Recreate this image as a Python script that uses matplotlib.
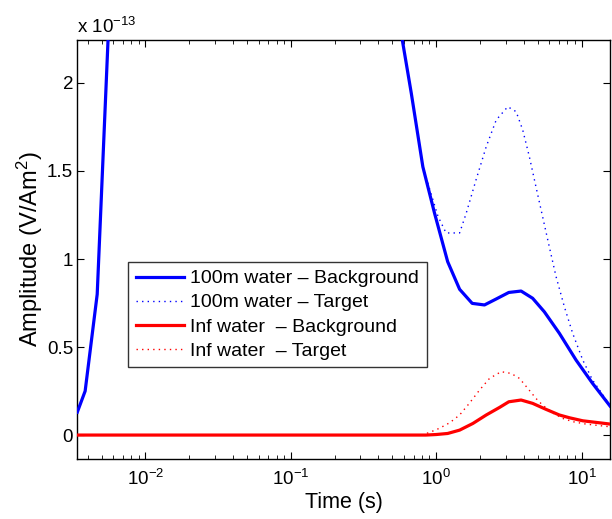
import numpy as np
import matplotlib
matplotlib.use("Agg")
import matplotlib.pyplot as plt
from matplotlib.ticker import LogLocator, NullFormatter

plt.rcParams['font.family'] = ['Liberation Sans', 'DejaVu Sans']
plt.rcParams['mathtext.fontset'] = 'custom'
plt.rcParams['mathtext.rm'] = 'Liberation Sans'
plt.rcParams['mathtext.it'] = 'Liberation Sans:italic'
plt.rcParams['mathtext.bf'] = 'Liberation Sans:bold'

# values in units of 1e-13 V/Am^2
t_blue_bg = [0.0034, 0.00385, 0.00466, 0.00553, 0.0065, 0.5, 0.585, 0.675, 0.81, 0.975, 1.20, 1.45, 1.77,
             2.15, 2.59, 3.16, 3.84, 4.61, 5.55, 7.04, 9.17, 11.9, 15.7]
a_blue_bg = [0.13, 0.25, 0.80, 2.24, 3.0, 3.0, 2.244, 1.94, 1.524, 1.26, 0.985, 0.828, 0.748,
             0.739, 0.773, 0.81, 0.818, 0.777, 0.70, 0.578, 0.426, 0.294, 0.165]

t_blue_tg = [0.81, 0.90, 1.03, 1.17, 1.45, 1.61, 1.88, 2.21, 2.59, 3.11, 3.55, 3.94, 4.38, 4.86, 5.40,
             6.0, 6.68, 7.62, 8.69, 10.2, 11.9, 15.7]
a_blue_tg = [1.524, 1.40, 1.242, 1.148, 1.148, 1.26, 1.449, 1.638, 1.79, 1.865, 1.837, 1.733, 1.58, 1.41, 1.24,
             1.07, 0.90, 0.729, 0.578, 0.426, 0.3125, 0.17]

t_red_bg = [0.0034, 0.85, 1.0, 1.20, 1.45, 1.79, 2.21, 2.73, 3.16, 3.84, 4.61, 5.70, 7.04, 8.28, 10.2, 15.7]
a_red_bg = [0.0, 0.0, 0.003, 0.009, 0.028, 0.066, 0.114, 0.157, 0.189, 0.199, 0.18, 0.146, 0.114, 0.098, 0.081, 0.0625]

t_red_tg = [0.0034, 0.80, 0.925, 1.05, 1.24, 1.45, 1.69, 1.99, 2.33, 2.80, 3.28, 3.74, 4.27, 4.86, 5.40,
            6.3, 7.4, 8.7, 10.7, 15.7]
a_red_tg = [0.0, 0.0, 0.019, 0.038, 0.07, 0.114, 0.18, 0.256, 0.322, 0.36, 0.35, 0.322, 0.265, 0.208, 0.17,
            0.127, 0.095, 0.076, 0.0625, 0.047]

labels = ['100m water \u2013 Background', '100m water \u2013 Target',
          'Inf water  \u2013 Background', 'Inf water  \u2013 Target']

fig = plt.figure(figsize=(6.12, 5.19), dpi=100)
ax = fig.add_axes([77.3/612, 1-459/519, (610-77.3)/612, (459-40)/519])

ax.plot(t_blue_bg, a_blue_bg, color=(0, 0, 1), lw=2.3, label=labels[0], zorder=3)
ax.plot(t_blue_tg, a_blue_tg, color=(0, 0, 1), lw=1.0, ls=(0, (1, 3)), label=labels[1], zorder=2)
ax.plot(t_red_bg, a_red_bg, color=(1, 0, 0), lw=2.3, label=labels[2], zorder=3)
ax.plot(t_red_tg, a_red_tg, color=(1, 0, 0), lw=1.0, ls=(0, (1, 3)), label=labels[3], zorder=2)

ax.set_xscale('log')
ax.set_xlim(0.0034, 15.7)
ax.set_ylim(-0.136, 2.244)
ax.set_yticks([0, 0.5, 1, 1.5, 2])
ax.set_yticklabels(['0', '0.5', '1', '1.5', '2'])
ax.xaxis.set_major_locator(LogLocator(base=10, numticks=10))
ax.xaxis.set_minor_locator(LogLocator(base=10, subs=np.arange(2, 10), numticks=20))
ax.xaxis.set_minor_formatter(NullFormatter())

ax.tick_params(which='both', direction='in', top=True, right=True, labelsize=13.5)
ax.tick_params(axis='y', pad=3)
ax.tick_params(axis='x', pad=7)
ax.tick_params(which='major', length=5, width=0.8)
ax.tick_params(which='minor', length=3, width=0.6)
for s in ax.spines.values():
    s.set_linewidth(1.0)

ax.set_xlabel('Time (s)', fontsize=15.5, labelpad=2)
ax.set_ylabel('Amplitude (V/Am$^2$)', fontsize=17, labelpad=1)
ax.text(0.0, 1.008, 'x 10$^{-13}$', transform=ax.transAxes, fontsize=13.5, ha='left', va='bottom')

leg = ax.legend(loc='upper left', bbox_to_anchor=(0.095, 0.47), fontsize=14, frameon=True,
                fancybox=False, edgecolor='black', handlelength=2.5, labelspacing=0.33,
                borderpad=0.4, handletextpad=0.3, borderaxespad=0)
leg.get_frame().set_linewidth(1.0)

fig.savefig('out.png', dpi=100)
